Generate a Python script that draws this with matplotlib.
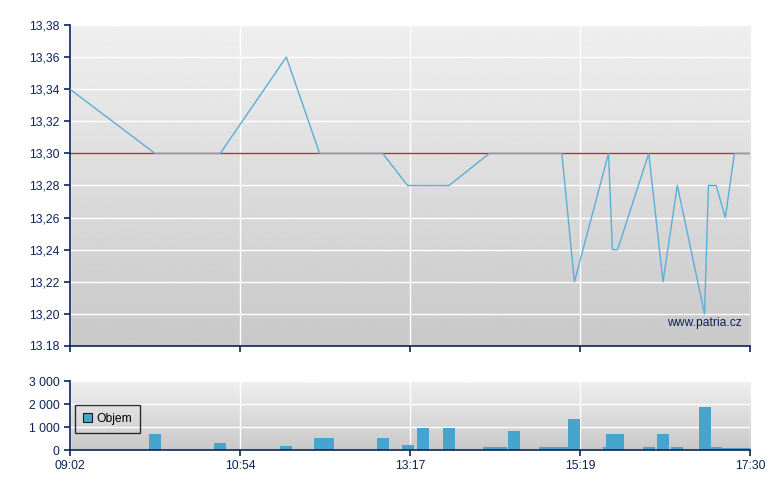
import numpy as np
import matplotlib
matplotlib.use("Agg")
import matplotlib.pyplot as plt
from matplotlib.patches import Patch

# trades: time, price, volume
times = ["09:02", "09:58", "10:41", "11:33", "12:01", "12:08", "12:54", "13:15",
         "13:26", "13:45", "14:14", "14:22", "14:32", "14:54", "15:01", "15:06",
         "15:15", "15:41", "15:44", "15:48", "16:12", "16:23", "16:34", "16:55",
         "16:58", "17:04", "17:11", "17:18", "17:25", "17:30"]
prices = [13.34, 13.30, 13.30, 13.36, 13.30, 13.30, 13.30, 13.28,
          13.28, 13.28, 13.30, 13.30, 13.30, 13.30, 13.30, 13.30,
          13.22, 13.30, 13.24, 13.24, 13.30, 13.22, 13.28, 13.20,
          13.28, 13.28, 13.26, 13.30, 13.30, 13.30]
volumes = [0, 700, 300, 180, 520, 520, 520, 220,
           960, 960, 130, 130, 820, 130, 130, 130,
           1350, 130, 700, 700, 130, 700, 130, 1850,
           130, 130, 100, 100, 100, 100]

prev_close = 13.30
tick_times = ["09:02", "10:54", "13:17", "15:19", "17:30"]
price_ticks = [13.18, 13.20, 13.22, 13.24, 13.26, 13.28, 13.30, 13.32, 13.34, 13.36, 13.38]
price_labels = ["13.18", "13,20", "13,22", "13,24", "13,26", "13,28",
                "13,30", "13,32", "13,34", "13,36", "13,38"]
vol_ticks = [0, 1000, 2000, 3000]
vol_labels = ["0", "1 000", "2 000", "3 000"]


def to_min(s):
    h, m = s.split(":")
    return int(h) * 60 + int(m)


# the time axis is not linear: the labelled ticks are evenly spaced
tick_min = [to_min(t) for t in tick_times]
tick_pos = np.arange(len(tick_times))
x = np.interp([to_min(t) for t in times], tick_min, tick_pos)

navy = "#0b2457"
line_col = "#5aafd6"
bar_col = "#45a5cf"

plt.rcParams["font.family"] = ["Liberation Sans", "DejaVu Sans"]
plt.rcParams["font.size"] = 8.7

fig = plt.figure(figsize=(7.8, 4.9), dpi=100)
ax = fig.add_axes([0.0897, 0.2939, 0.8718, 0.6551])
axv = fig.add_axes([0.0897, 0.0816, 0.8718, 0.1408])

grad = np.linspace(1, 0, 256).reshape(-1, 1)
for a in (ax, axv):
    a.imshow(grad, extent=[0, 1, 0, 1], transform=a.transAxes, aspect="auto",
             cmap="gray", vmin=-5.165, vmax=1.415, zorder=0)
    a.set_xlim(tick_pos[0], tick_pos[-1])
    a.set_xticks(tick_pos)
    a.grid(True, color="white", lw=1.0, zorder=1)
    a.set_axisbelow(True)
    for side in ("top", "right"):
        a.spines[side].set_visible(False)
    for side in ("left", "bottom"):
        a.spines[side].set_color(navy)
        a.spines[side].set_linewidth(1.2)
    a.tick_params(colors=navy, length=4, width=1.2, direction="out")

# price chart
ax.axhline(prev_close, color="#c0282d", lw=1.0, zorder=2)
ax.plot(x, prices, color=line_col, lw=1.0, zorder=3)
ax.set_ylim(13.18, 13.38)
ax.set_yticks(price_ticks)
ax.set_yticklabels(price_labels)
ax.set_xticklabels([])
ax.text(0.988, 0.072, "www.patria.cz", transform=ax.transAxes, ha="right",
        va="center", color=navy, fontsize=8.7, zorder=4)

# volume chart
axv.bar(x, volumes, width=12 / 170, color=bar_col, zorder=2)
axv.set_ylim(0, 3000)
axv.set_yticks(vol_ticks)
axv.set_yticklabels(vol_labels)
axv.set_xticklabels(tick_times)
leg = axv.legend(handles=[Patch(facecolor=bar_col, edgecolor="#1a1a1a", lw=0.8)],
                 labels=["Objem"], loc="upper left", bbox_to_anchor=(0.007, 0.652),
                 borderaxespad=0, fancybox=False, edgecolor="black",
                 handlelength=0.75, handleheight=0.75, handletextpad=0.4,
                 borderpad=0.65)
leg.get_frame().set_facecolor("none")
leg.get_frame().set_linewidth(1.0)
for t in leg.get_texts():
    t.set_color("black")

fig.savefig("out.png", dpi=100)
